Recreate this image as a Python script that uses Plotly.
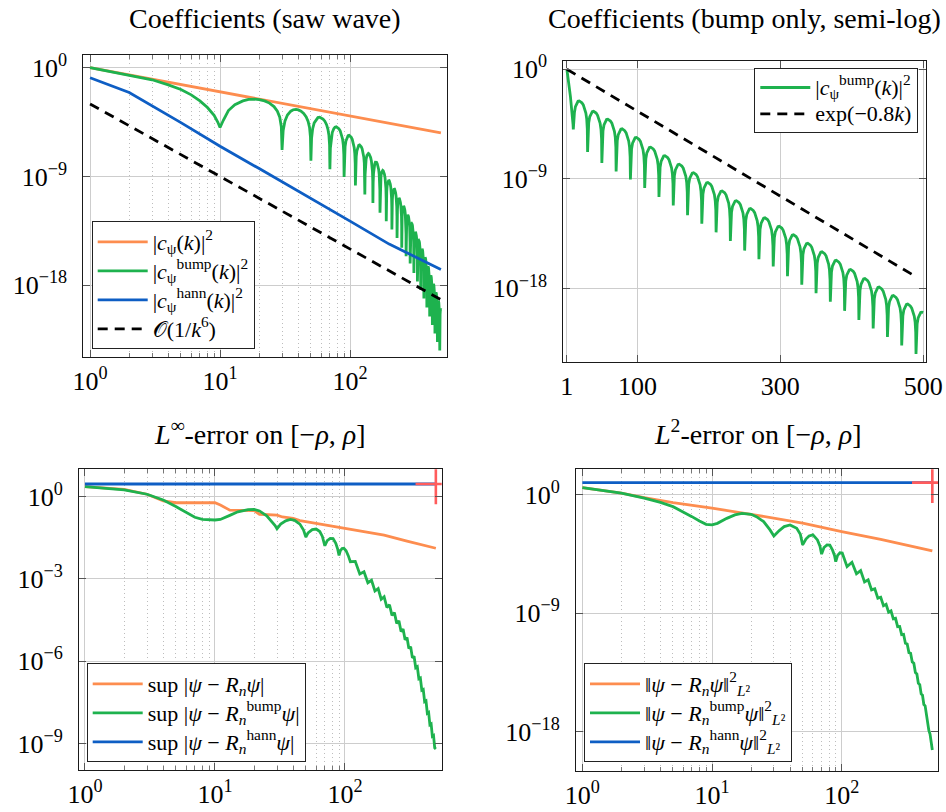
import plotly.graph_objects as go

# ---------------- data (log10 of values) ----------------
# Panel 1: coefficients of the saw wave (log-log)
saw_k = [1, 2, 5, 10, 20, 50, 100, 200, 500]
saw_log = [0.0, -0.6, -1.4, -2.0, -2.6, -3.4, -4.0, -4.6, -5.4]
hann_k = [1, 2, 5, 10, 20, 50, 100, 200, 500]
hann_log = [-0.83, -2.05, -4.55, -6.5, -8.35, -10.8, -12.7, -14.6, -16.7]
ref6_k = [1, 10, 100, 500]
ref6_log = [-3.0, -9.0, -15.0, -19.2]

# bump coefficients: main lobe, then side lobes between nulls
bump_head_k = [1, 2, 3, 4, 5, 6, 7, 8, 9, 9.6]
bump_head_log = [0.0, -0.6, -1.0, -1.42, -1.8, -2.25, -2.75, -3.3, -3.95, -4.5]
bump_null_k = [10, 30, 50, 70, 90, 110, 130, 150, 170, 190, 210, 230, 250,
               270, 290, 310, 330, 350, 370, 390, 410, 430, 450, 470, 490]
bump_null_log = [-4.95, -6.8, -7.7, -8.4, -9.05, -9.75, -10.5, -11.2, -12.0,
                 -12.7, -13.4, -14.1, -14.9, -15.6, -16.2, -17.0, -17.7, -18.4,
                 -19.1, -19.85, -20.6, -21.3, -22.0, -22.7, -23.4]
bump_peak_log = [-2.6, -3.45, -4.1, -4.9, -5.6, -6.4, -7.1, -7.8, -8.5, -9.3,
                 -10.0, -10.8, -11.45, -12.2, -12.9, -13.6, -14.3, -15.0, -15.7,
                 -16.45, -17.2, -17.9, -18.6, -19.3, -19.96]
bump_k_last = 500
lobe_width = 20
# profile of one side lobe: position within lobe, drop below lobe top (decades)
lobe_frac = [0.03, 0.08, 0.15, 0.25, 0.33, 0.42, 0.5, 0.6, 0.7, 0.8, 0.88, 0.94, 0.98]
lobe_drop = [1.75, 0.95, 0.47, 0.15, 0.03, 0.0, 0.04, 0.15, 0.33, 0.62, 1.0, 1.5, 2.3]

# Panel 2: reference exponential
exp_k = [1, 100, 200, 300, 400, 490]
exp_log = [0.0, -3.45, -6.95, -10.4, -13.9, -17.05]

# Panel 3: L-infinity error
linf_plain_k = [1, 2, 3, 4, 5, 10, 11, 13, 20, 22, 30, 33, 40, 45, 50, 70, 100, 200, 300, 500]
linf_plain_log = [0.37, 0.27, 0.09, -0.15, -0.22, -0.22, -0.3, -0.49, -0.51, -0.64,
                  -0.67, -0.74, -0.79, -0.87, -0.91, -1.03, -1.15, -1.40, -1.62, -1.88]
linf_bump_k = [1, 2, 3, 4, 5, 6, 7, 8, 9, 10, 11, 12, 13, 15, 18, 20, 22, 25, 27, 29,
               30, 32, 35, 38, 41, 45, 48, 50, 52, 56, 60, 64, 67, 70, 73, 77, 81, 85,
               88, 90, 92, 95, 98, 102, 106, 110, 120, 130, 140, 150, 160, 170, 180,
               190, 200, 210, 220, 230, 240, 250, 260, 270, 280, 290, 300, 310, 320,
               330, 340, 350, 360, 370, 380, 390, 400, 410, 420, 430, 440, 450, 460,
               470, 480, 490, 500]
linf_bump_log = [0.37, 0.25, 0.09, -0.12, -0.36, -0.58, -0.75, -0.83, -0.85, -0.85,
                 -0.83, -0.76, -0.68, -0.55, -0.47, -0.46, -0.52, -0.70, -0.87, -1.05,
                 -1.17, -1.0, -0.88, -0.83, -0.86, -1.0, -1.22, -1.47, -1.32, -1.2,
                 -1.18, -1.27, -1.45, -1.79, -1.6, -1.52, -1.53, -1.7, -1.92, -2.14,
                 -1.98, -1.89, -1.88, -1.97, -2.15, -2.37, -2.36, -2.82, -2.74, -3.14,
                 -3.05, -3.44, -3.35, -3.74, -3.65, -4.04, -3.94, -4.33, -4.23, -4.62,
                 -4.53, -4.92, -4.83, -5.22, -5.14, -5.54, -5.47, -5.88, -5.82, -6.24,
                 -6.20, -6.64, -6.61, -7.06, -7.03, -7.48, -7.45, -7.90, -7.87, -8.32,
                 -8.29, -8.74, -8.71, -9.16, -9.2]
linf_hann_k = [1, 500]
linf_hann_log = [0.463, 0.463]

# Panel 4: L2 error
l2_plain_k = [1, 2, 3, 5, 10, 20, 50, 100, 200, 500]
l2_plain_log = [0.56, 0.13, -0.2, -0.58, -1.01, -1.47, -2.15, -2.79, -3.37, -4.26]
l2_bump_k = [1, 2, 3, 4, 5, 6, 7, 8, 9, 10, 11, 13, 15, 17, 20, 22, 25, 28, 30, 33,
             36, 40, 45, 48, 50, 53, 56, 60, 65, 68, 70, 73, 77, 81, 85, 88, 90, 93,
             97, 101, 105, 108, 110, 120, 130, 140, 150, 160, 170, 180, 190, 200,
             210, 220, 230, 240, 250, 260, 270, 280, 290, 300, 310, 320, 330, 340,
             350, 360, 370, 380, 390, 400, 410, 420, 430, 440, 450, 460, 470, 480,
             490, 500]
l2_bump_log = [0.56, 0.13, -0.25, -0.56, -0.89, -1.27, -1.65, -1.98, -2.23, -2.28,
               -2.16, -1.78, -1.52, -1.40, -1.47, -1.65, -2.03, -2.66, -3.12, -2.71,
               -2.41, -2.28, -2.54, -3.0, -3.8, -3.35, -3.12, -3.04, -3.42, -3.9, -4.5,
               -4.0, -3.8, -3.82, -4.2, -4.6, -5.07, -4.6, -4.4, -4.42, -4.85, -5.2,
               -5.45, -5.12, -6.0, -5.75, -6.62, -6.45, -7.22, -7.13, -7.85, -7.78,
               -8.42, -8.31, -8.92, -8.82, -9.42, -9.38, -10.02, -10.0, -10.62, -10.6,
               -11.28, -11.33, -11.99, -12.04, -12.70, -12.80, -13.51, -13.61, -14.32,
               -14.42, -15.13, -15.23, -15.94, -16.04, -16.75, -17.03, -17.91, -18.19,
               -19.07, -19.4]
l2_hann_k = [1, 500]
l2_hann_log = [0.94, 0.94]

# tick labels
log_x_vals = [1, 10, 100]
log_x_text = ['10<sup>0</sup>', '10<sup>1</sup>', '10<sup>2</sup>']
minor_x_vals = [2, 3, 4, 5, 6, 7, 8, 9, 20, 30, 40, 50, 60, 70, 80, 90]
lin_x_vals = [1, 100, 300, 500]
lin_x_text = ['1', '100', '300', '500']
y9_vals = [1, 1e-9, 1e-18]
y9_text = ['10<sup>0</sup>', '10<sup>−9</sup>', '10<sup>−18</sup>']
y3_vals = [1, 1e-3, 1e-6, 1e-9]
y3_text = ['10<sup>0</sup>', '10<sup>−3</sup>', '10<sup>−6</sup>', '10<sup>−9</sup>']

# ---------------- build bump curve from lobe data ----------------
def expand_bump():
    ks = list(bump_head_k)
    vs = list(bump_head_log)
    for i, (nk, nv) in enumerate(zip(bump_null_k, bump_null_log)):
        ks.append(nk)
        vs.append(nv)
        for f, d in zip(lobe_frac, lobe_drop):
            kk = nk + f * lobe_width
            if kk > bump_k_last:
                break
            ks.append(kk)
            vs.append(bump_peak_log[i] - d)
    return ks, vs

bump_k, bump_log = expand_bump()

def pw(v):
    return [10 ** x for x in v]

ORANGE = '#fd8d4f'
GREEN = '#1eb24e'
BLUE = '#0e5ec4'
RED = '#ff5c5c'
FONT = 'Liberation Serif'
LW = 2.8

def lg(t):
    return '<span style="font-size:22px">' + t + '</span>'

fig = go.Figure()

def line(x, ylog, color, name, xa, ya, leg, dash=None, show=True):
    fig.add_trace(go.Scatter(
        x=x, y=pw(ylog), mode='lines', name=lg(name),
        line=dict(color=color, width=LW, dash=dash),
        xaxis=xa, yaxis=ya, legend=leg, showlegend=show))

DASH = '10px,7px'

# Panel 1
line(saw_k, saw_log, ORANGE, '|<i>c</i><sub>ψ</sub>(<i>k</i>)|<sup>2</sup>', 'x', 'y', 'legend')
line(bump_k, bump_log, GREEN, '|<i>c</i><sub>ψ</sub><sup>bump</sup>(<i>k</i>)|<sup>2</sup>', 'x', 'y', 'legend')
line(hann_k, hann_log, BLUE, '|<i>c</i><sub>ψ</sub><sup>hann</sup>(<i>k</i>)|<sup>2</sup>', 'x', 'y', 'legend')
line(ref6_k, ref6_log, 'black', '𝒪(1/<i>k</i><sup>6</sup>)', 'x', 'y', 'legend', dash=DASH)

# Panel 2
line(bump_k, bump_log, GREEN, '|<i>c</i><sub>ψ</sub><sup>bump</sup>(<i>k</i>)|<sup>2</sup>', 'x2', 'y2', 'legend2')
line(exp_k, exp_log, 'black', 'exp(−0.8<i>k</i>)', 'x2', 'y2', 'legend2', dash=DASH)

# Panel 3
line(linf_plain_k, linf_plain_log, ORANGE, 'sup |<i>ψ</i> − <i>R<sub>n</sub>ψ</i>|', 'x3', 'y3', 'legend3')
line(linf_bump_k, linf_bump_log, GREEN, 'sup |<i>ψ</i> − <i>R</i><sub><i>n</i></sub><sup>bump</sup><i>ψ</i>|', 'x3', 'y3', 'legend3')
line(linf_hann_k, linf_hann_log, BLUE, 'sup |<i>ψ</i> − <i>R</i><sub><i>n</i></sub><sup>hann</sup><i>ψ</i>|', 'x3', 'y3', 'legend3')
fig.add_trace(go.Scatter(x=[linf_hann_k[-1]], y=pw([linf_hann_log[-1]]), mode='markers',
                         marker=dict(symbol='cross-thin', size=29, line=dict(color=RED, width=2.6)),
                         xaxis='x3', yaxis='y3', showlegend=False, cliponaxis=True))

# Panel 4
line(l2_plain_k, l2_plain_log, ORANGE, '‖<i>ψ</i> − <i>R<sub>n</sub>ψ</i>‖<sup>2</sup><sub><i>L</i>²</sub>', 'x4', 'y4', 'legend4')
line(l2_bump_k, l2_bump_log, GREEN, '‖<i>ψ</i> − <i>R</i><sub><i>n</i></sub><sup>bump</sup><i>ψ</i>‖<sup>2</sup><sub><i>L</i>²</sub>', 'x4', 'y4', 'legend4')
line(l2_hann_k, l2_hann_log, BLUE, '‖<i>ψ</i> − <i>R</i><sub><i>n</i></sub><sup>hann</sup><i>ψ</i>‖<sup>2</sup><sub><i>L</i>²</sub>', 'x4', 'y4', 'legend4')
fig.add_trace(go.Scatter(x=[l2_hann_k[-1]], y=pw([l2_hann_log[-1]]), mode='markers',
                         marker=dict(symbol='cross-thin', size=29, line=dict(color=RED, width=2.6)),
                         xaxis='x4', yaxis='y4', showlegend=False, cliponaxis=True))

W, H = 946, 812

def dx(a, b):
    return [a / W, b / W]

def dy(top, bottom):
    return [1 - bottom / H, 1 - top / H]

FRAME = '#1a1a1a'
GRID = '#cdcdcd'
TICKF = dict(family=FONT, size=26, color='black')

def base_axis(**kw):
    d = dict(showline=True, linecolor=FRAME, linewidth=1, mirror='allticks',
             ticks='inside', ticklen=7, tickwidth=1, tickcolor='#555',
             showgrid=True, gridcolor=GRID, gridwidth=1, zeroline=False,
             tickfont=TICKF, tickmode='array', ticklabelstandoff=1, automargin=False)
    d.update(kw)
    return d

minor_log = dict(tickmode='array', tickvals=minor_x_vals, ticks='inside', ticklen=4,
                 tickcolor='#777', showgrid=True, gridcolor='#bdbdbd', griddash='1px,3px', gridwidth=1)

layout = dict(
    width=W, height=H, autosize=False,
    margin=dict(l=0, r=0, t=0, b=0, pad=0, autoexpand=False),
    paper_bgcolor='white', plot_bgcolor='white',
    font=dict(family=FONT, color='black'),
    xaxis=base_axis(type='log', domain=dx(83.3, 447), range=[-0.052, 2.746],
                    tickvals=log_x_vals, ticktext=log_x_text, minor=minor_log, anchor='y'),
    yaxis=base_axis(type='log', domain=dy(55, 356.7), range=[-23.92, 1.05],
                    tickvals=y9_vals, ticktext=y9_text, anchor='x', ticklabelstandoff=10),
    xaxis2=base_axis(type='linear', domain=dx(563.3, 926), range=[-4, 504],
                     tickvals=lin_x_vals, ticktext=lin_x_text, anchor='y2'),
    yaxis2=base_axis(type='log', domain=dy(61, 361.7), range=[-24.03, 0.68],
                     tickvals=y9_vals, ticktext=y9_text, anchor='x2', ticklabelstandoff=10),
    xaxis3=base_axis(type='log', domain=dx(79, 441.7), range=[-0.046, 2.744],
                     tickvals=log_x_vals, ticktext=log_x_text, minor=minor_log, anchor='y3'),
    yaxis3=base_axis(type='log', domain=dy(469.3, 770), range=[-9.97, 1.0],
                     tickvals=y3_vals, ticktext=y3_text, anchor='x3', ticklabelstandoff=10),
    xaxis4=base_axis(type='log', domain=dx(576, 938.3), range=[-0.049, 2.745],
                     tickvals=log_x_vals, ticktext=log_x_text, minor=minor_log, anchor='y4'),
    yaxis4=base_axis(type='log', domain=dy(469.3, 770.7), range=[-20.97, 1.95],
                     tickvals=y9_vals, ticktext=y9_text, anchor='x4', ticklabelstandoff=10),
)

leg_common = dict(bgcolor='white', bordercolor='#222', borderwidth=1,
                  itemwidth=50, tracegroupgap=0, xref='paper', yref='paper')

def leg_font(sz):
    return dict(family=FONT, size=sz, color='black')

layout['legend'] = dict(leg_common, font=leg_font(20), x=91.7 / W, y=1 - 349.3 / H,
                        xanchor='left', yanchor='bottom')
layout['legend2'] = dict(leg_common, font=leg_font(18), x=918.3 / W, y=1 - 68.3 / H,
                         xanchor='right', yanchor='top')
layout['legend3'] = dict(leg_common, font=leg_font(20), x=86.7 / W, y=1 - 762.3 / H,
                         xanchor='left', yanchor='bottom')
layout['legend4'] = dict(leg_common, font=leg_font(20), x=584 / W, y=1 - 762.3 / H,
                         xanchor='left', yanchor='bottom')

titles = [
    ('Coefficients (saw wave)', (83.3 + 447) / 2, 18),
    ('Coefficients (bump only, semi-log)', (563.3 + 926) / 2, 18),
    ('<i>L</i><sup>∞</sup>-error on [−<i>ρ</i>, <i>ρ</i>]', (79 + 441.7) / 2, 432),
    ('<i>L</i><sup>2</sup>-error on [−<i>ρ</i>, <i>ρ</i>]', (576 + 938.3) / 2, 432),
]
layout['annotations'] = [
    dict(text=t, x=cx / W, y=1 - cy / H, xref='paper', yref='paper',
         xanchor='center', yanchor='middle', showarrow=False,
         font=dict(family=FONT, size=28, color='black'))
    for t, cx, cy in titles
]

fig.update_layout(**layout)
fig.write_html('out.html')
